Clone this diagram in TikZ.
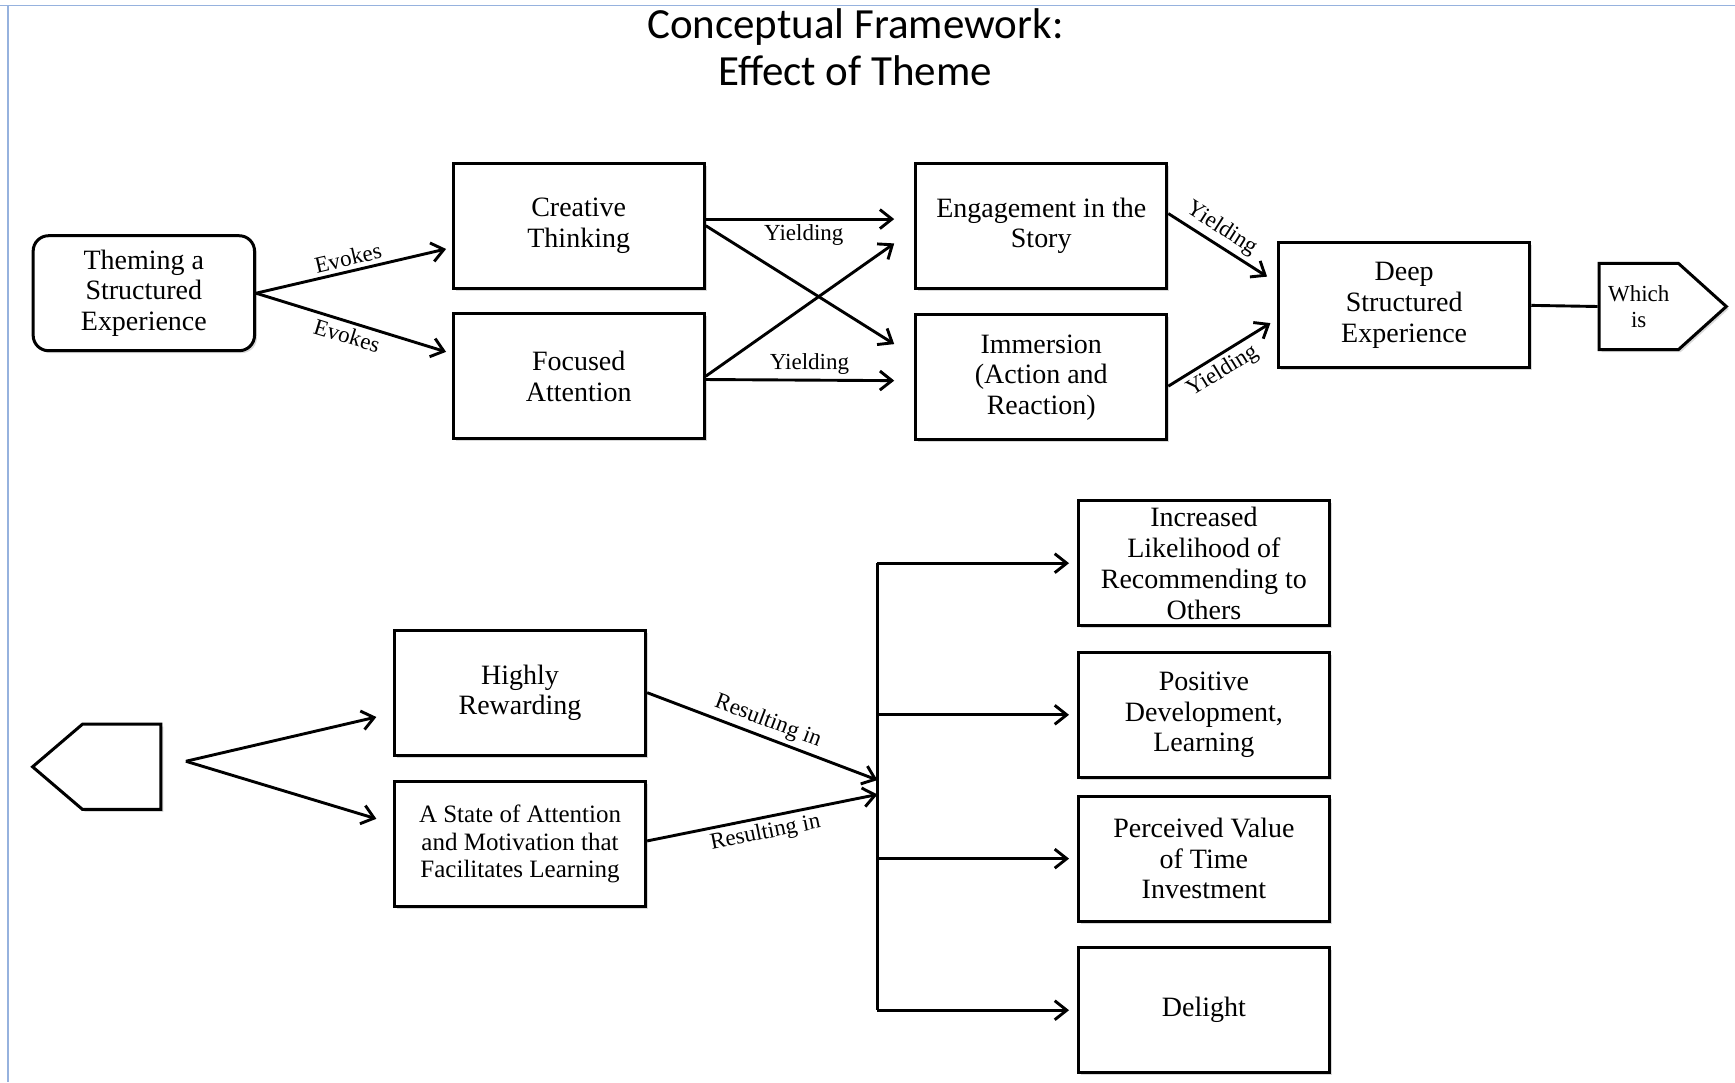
\documentclass[tikz,border=0pt]{standalone}
\usepackage{fontspec}
\setmainfont{Liberation Serif}
\newfontfamily\titlefont{Carlito}
\usetikzlibrary{arrows.meta,calc,shapes.symbols,shadows}

\definecolor{frameblue}{RGB}{150,178,222}

\tikzset{
  box/.style={draw,line width=1.5pt,fill=white,minimum width=125.6pt,minimum height=62.5pt,
    align=center,inner sep=2pt,font=\fontsize{14}{15.3}\selectfont,
    drop shadow={shadow xshift=1.2pt,shadow yshift=-1.2pt,opacity=0.3}},
  startbox/.style={box,rounded corners=7.7pt,minimum width=110.7pt,minimum height=57.5pt},
  tag/.style={signal,draw,line width=1.5pt,fill=white,inner sep=0pt,align=center,
    font=\fontsize{11.5}{13.3}\selectfont,
    drop shadow={shadow xshift=1.2pt,shadow yshift=-1.2pt,opacity=0.3}},
  arr/.style={line width=1.45pt,-{Straight Barb[length=6pt,width=9.5pt]}},
  link/.style={line width=1.45pt},
  lbl/.style={font=\fontsize{11.5}{13}\selectfont,sloped,inner sep=2pt}
}

\begin{document}
\begin{tikzpicture}[x=0.5533pt,y=-0.5533pt]
    \useasboundingbox (0,0) rectangle (1568,978);
    \draw[frameblue,line width=0.8pt] (0,5) -- (1568,5);
    \draw[frameblue,line width=0.8pt] (7,5) -- (7,978);

    \node[font=\titlefont\fontsize{21.5}{23.5}\selectfont,align=center] (title) at (773,43)
      {Conceptual Framework:\\Effect of Theme};

    % first row
    \node[startbox] (theme) at (130,265) {Theming a\\Structured\\Experience};
    \node[box] (ct) at (523,204) {Creative\\Thinking};
    \node[box] (fa) at (523,340) {Focused\\Attention};
    \node[box] (eng) at (941,204) {Engagement in the\\Story};
    \node[box] (imm) at (941,341) {Immersion\\(Action and\\Reaction)};
    \node[box] (deep) at (1269,276) {Deep\\Structured\\Experience};
    \node[tag,signal to=east,signal pointer angle=84,minimum width=63.6pt,minimum height=43.2pt] (which) at (1481,277) {Which\\is};

    \draw[arr] (theme.east) -- node[lbl,above]{Evokes} ($(ct.west)+(-5,21)$);
    \draw[arr] (theme.east) -- node[lbl,below]{Evokes} ($(fa.west)+(-5,-22)$);
    \draw[arr] ($(ct.east)+(0,-6)$) -- node[lbl,below,pos=0.52]{Yielding} ($(eng.west)+(-18,-6)$);
    \draw[arr] (ct.east) -- ($(imm.west)+(-18,-30)$);
    \draw[arr] (fa.east) -- ($(eng.west)+(-18,16)$);
    \draw[arr] ($(fa.east)+(0,3)$) -- node[lbl,above,pos=0.55]{Yielding} ($(imm.west)+(-18,3)$);
    \draw[arr] ($(eng.east)+(0,-11)$) -- node[lbl,above,pos=0.45]{Yielding} ($(deep.west)+(-9,-26)$);
    \draw[arr] ($(imm.east)+(0,8)$) -- node[lbl,below,pos=0.45]{Yielding} ($(deep.west)+(-6,16)$);
    \draw[link] (deep.east) -- (which.west);

    % second row
    \node[tag,signal to=west,signal pointer angle=81,minimum width=64.2pt,minimum height=42.6pt] (cont) at (110,693) {};
    \coordinate (fork) at (168,688);
    \node[box] (hr) at (470,626) {Highly\\Rewarding};
    \node[box,font=\fontsize{12.5}{13.8}\selectfont] (as) at (470,763) {A State of Attention\\and Motivation that\\Facilitates Learning};
    \coordinate (bus) at (793,712);
    \node[box,font=\fontsize{14}{15.5}\selectfont] (inc) at (1088,509) {Increased\\Likelihood of\\Recommending to\\Others};
    \node[box] (pos) at (1088,646) {Positive\\Development,\\Learning};
    \node[box] (per) at (1088,776) {Perceived Value\\of Time\\Investment};
    \node[box] (del) at (1088,913) {Delight};

    \draw[arr] (fork) -- ($(hr.west)+(-15,22)$);
    \draw[arr] (fork) -- ($(as.west)+(-15,-23)$);
    \draw[arr] (hr.east) -- node[lbl,above]{Resulting in} ($(bus)+(0,-7)$);
    \draw[arr] ($(as.east)+(0,-3)$) -- node[lbl,below]{Resulting in} ($(bus)+(0,6)$);
    \draw[link] (bus |- inc.west) -- (bus |- del.west);
    \foreach \n in {inc,pos,per,del}
      \draw[arr] (bus |- \n.west) -- ($(\n.west)+(-7,0)$);
\end{tikzpicture}
\end{document}
